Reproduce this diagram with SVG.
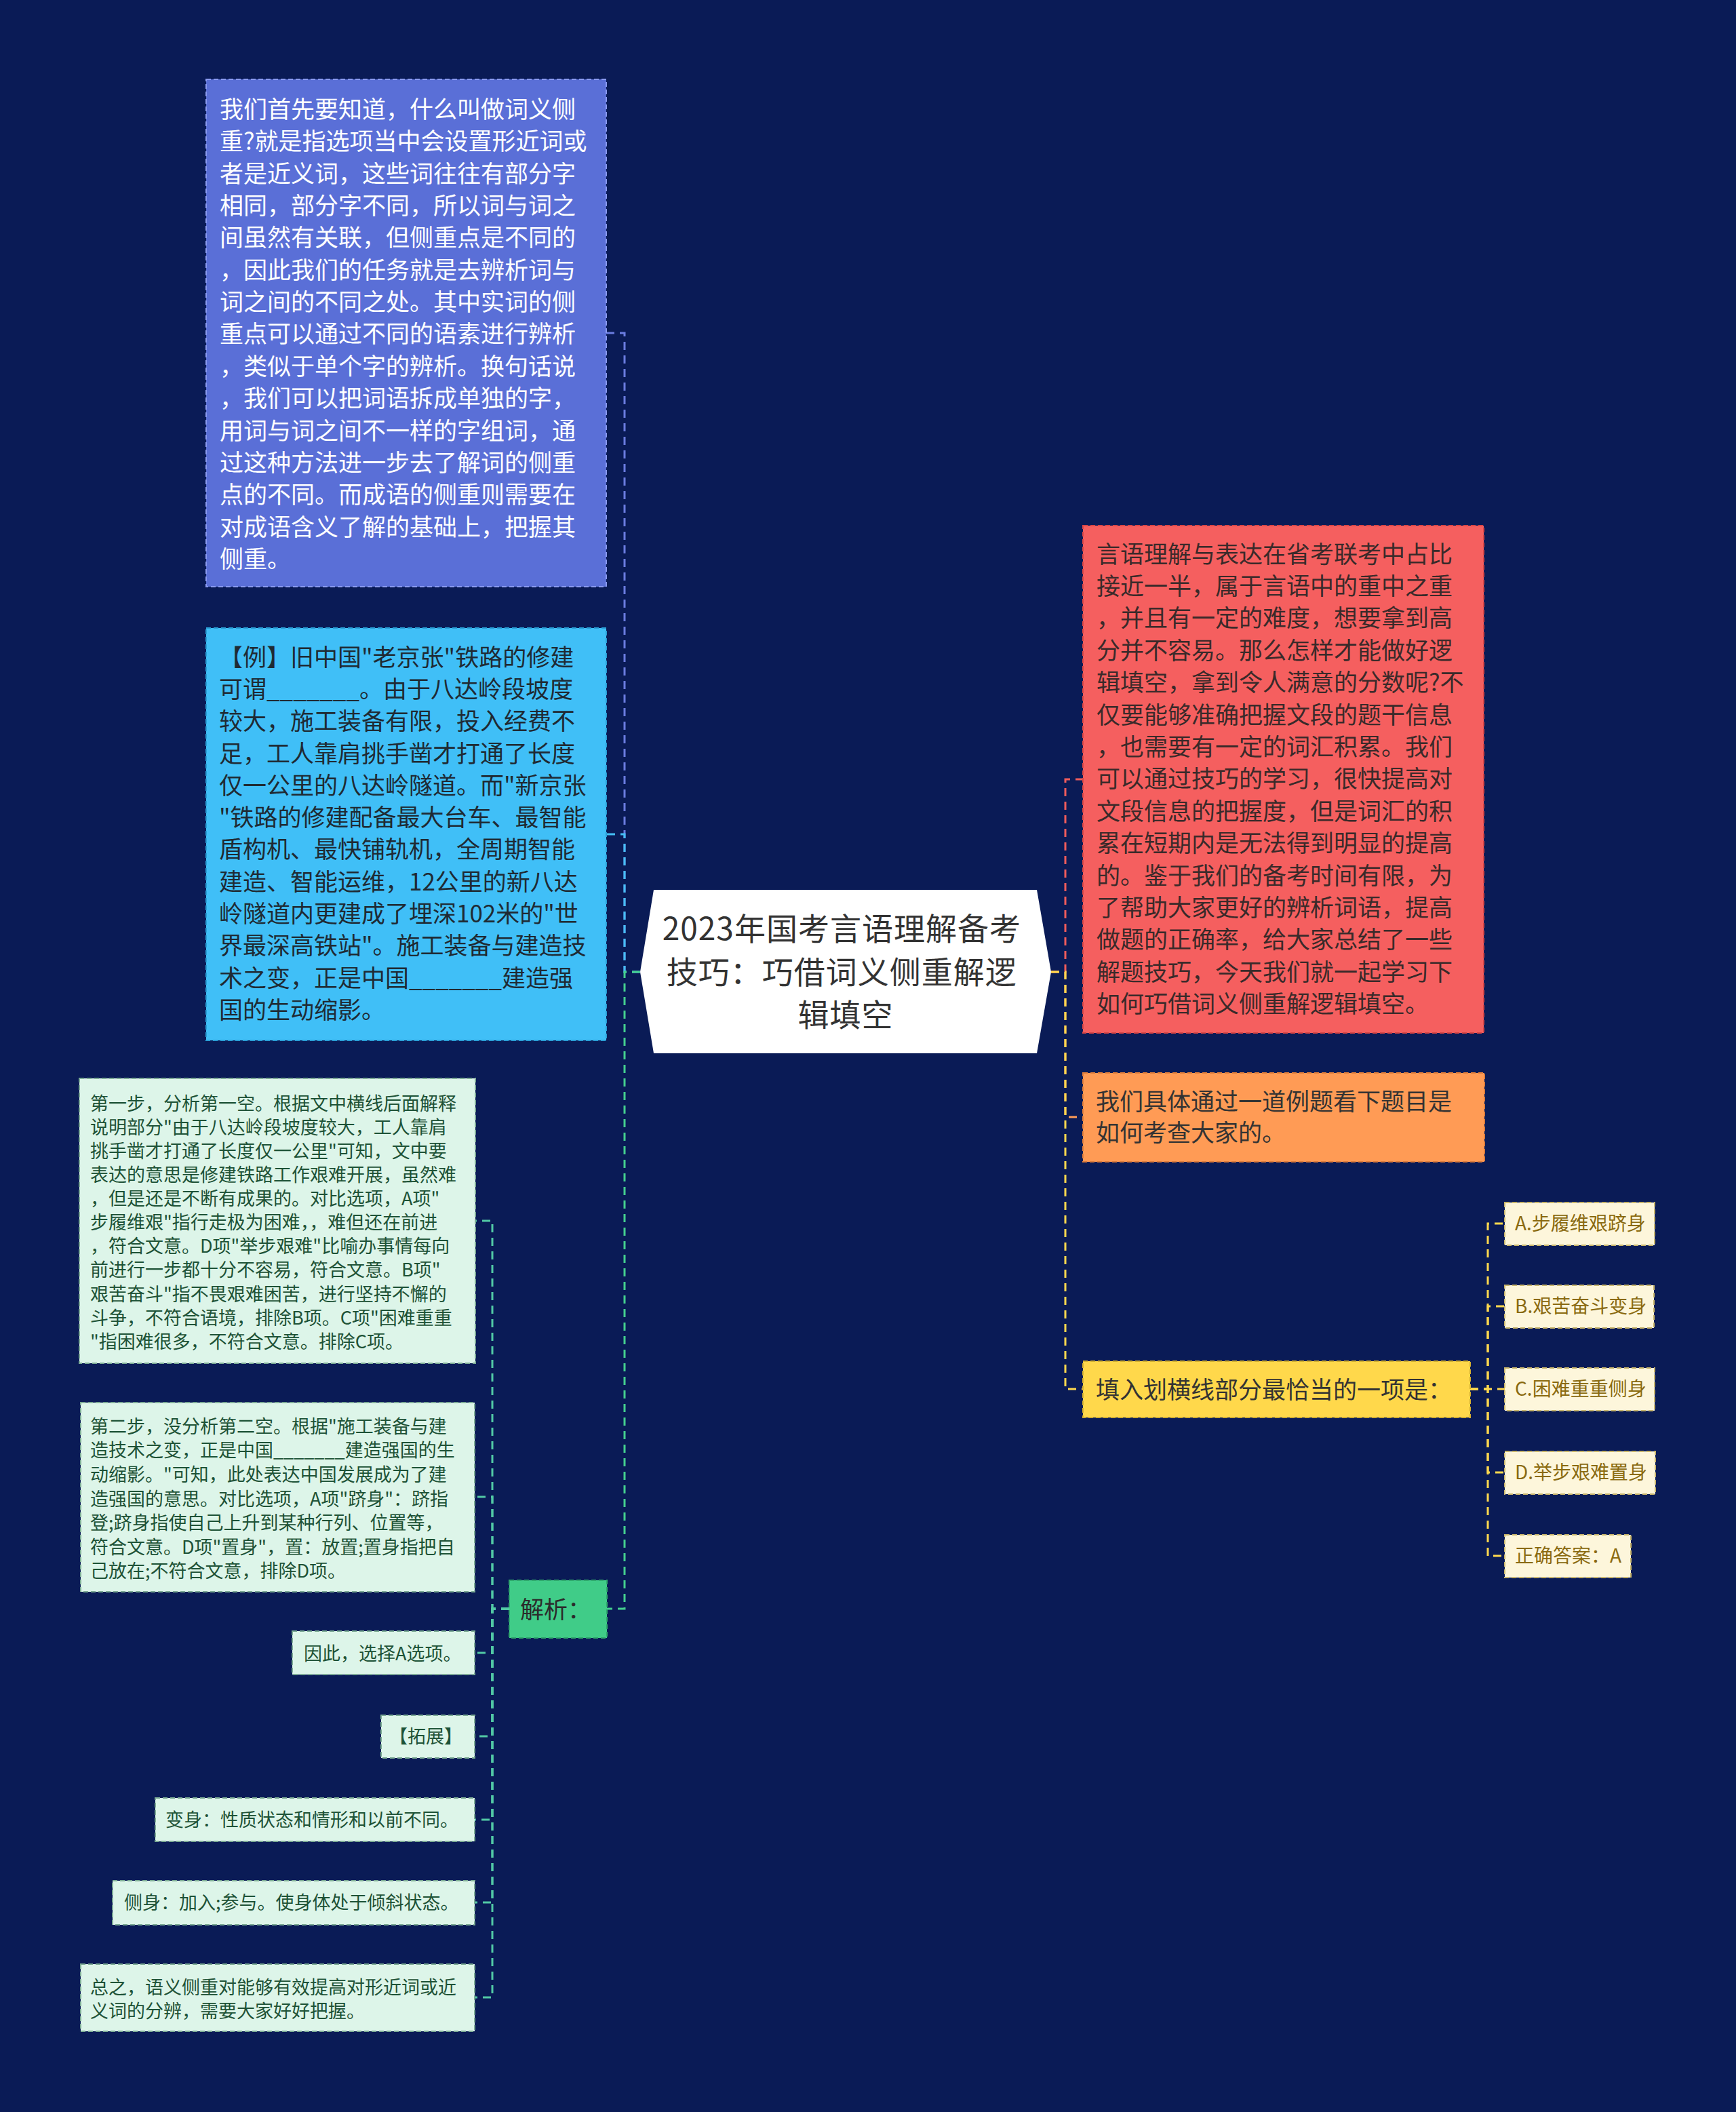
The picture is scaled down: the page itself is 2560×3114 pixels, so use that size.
<svg xmlns="http://www.w3.org/2000/svg" width="2560" height="3114" viewBox="0 0 2560 3114">
<style>
text{font-family:"Noto Sans CJK SC","Noto Sans",sans-serif;}
.t35{font-size:35px}
.t27{font-size:27px}
.t28{font-size:28px}
.t46{font-size:46px;letter-spacing:1px}
.box{stroke-width:2;stroke-dasharray:7 4}
.blue{fill:#5a6fd7;stroke:#8a9af0}
.sky{fill:#40bff7;stroke:#2a9fd6}
.red{fill:#f55f5f;stroke:#d94545}
.orange{fill:#ff9b55;stroke:#e07d3a}
.yellow{fill:#ffd84b;stroke:#d4b030}
.green{fill:#40cc88;stroke:#2fa86c}
.mint{fill:#ddf5e9;stroke:#7cab94}
.cream{fill:#fdf6db;stroke:#c8b56a}
.ln{fill:none;stroke-width:3;stroke-dasharray:12 8}
</style>
<rect x="0" y="0" width="2560" height="3114" fill="#0a1b56"/>

<g id="connectors">
  <path class="ln" stroke="#6b7de0" d="M944 1433H921V491H894"/>
  <path class="ln" stroke="#45c0f5" d="M944 1433H921V1230H894"/>
  <path class="ln" stroke="#45d08f" d="M944 1433H921V2372H895"/>
  <path class="ln" stroke="#f05c5c" d="M1550 1433H1571V1149H1597"/>
  <path class="ln" stroke="#ff9d57" d="M1550 1433H1571V1647H1597"/>
  <path class="ln" stroke="#ffd94e" d="M1550 1433H1571V2048H1597"/>
  <path class="ln" stroke="#52c9a5" d="M751 2372H726V1800H701"/>
  <path class="ln" stroke="#52c9a5" d="M751 2372H726V2207H700"/>
  <path class="ln" stroke="#52c9a5" d="M751 2372H726V2437H700"/>
  <path class="ln" stroke="#52c9a5" d="M751 2372H726V2560H700"/>
  <path class="ln" stroke="#52c9a5" d="M751 2372H726V2683H700"/>
  <path class="ln" stroke="#52c9a5" d="M751 2372H726V2805H700"/>
  <path class="ln" stroke="#52c9a5" d="M751 2372H726V2945H700"/>
  <path class="ln" stroke="#ffd94e" d="M2168 2048H2194V1804H2219"/>
  <path class="ln" stroke="#ffd94e" d="M2168 2048H2194V1926H2219"/>
  <path class="ln" stroke="#ffd94e" d="M2168 2048H2194V2048H2219"/>
  <path class="ln" stroke="#ffd94e" d="M2168 2048H2194V2171H2219"/>
  <path class="ln" stroke="#ffd94e" d="M2168 2048H2194V2294H2219"/>
</g>

<g id="root">
  <polygon points="964,1312 1529,1312 1550,1433 1529,1553 964,1553 944,1433" fill="#ffffff"/>
  <text class="t46" fill="#333333" text-anchor="middle">
    <tspan x="1247" y="1386">2023年国考言语理解备考</tspan>
    <tspan x="1247" y="1449.5">技巧：巧借词义侧重解逻</tspan>
    <tspan x="1247" y="1513">辑填空</tspan>
  </text>
</g>

<g id="node-meaning">
  <rect class="box blue" x="304" y="117" width="590" height="748"/>
  <text class="t35" fill="#ffffff">
    <tspan x="324" y="174">我们首先要知道，什么叫做词义侧</tspan>
    <tspan x="324" dy="47.35">重?就是指选项当中会设置形近词或</tspan>
    <tspan x="324" dy="47.35">者是近义词，这些词往往有部分字</tspan>
    <tspan x="324" dy="47.35">相同，部分字不同，所以词与词之</tspan>
    <tspan x="324" dy="47.35">间虽然有关联，但侧重点是不同的</tspan>
    <tspan x="324" dy="47.35">，因此我们的任务就是去辨析词与</tspan>
    <tspan x="324" dy="47.35">词之间的不同之处。其中实词的侧</tspan>
    <tspan x="324" dy="47.35">重点可以通过不同的语素进行辨析</tspan>
    <tspan x="324" dy="47.35">，类似于单个字的辨析。换句话说</tspan>
    <tspan x="324" dy="47.35">，我们可以把词语拆成单独的字，</tspan>
    <tspan x="324" dy="47.35">用词与词之间不一样的字组词，通</tspan>
    <tspan x="324" dy="47.35">过这种方法进一步去了解词的侧重</tspan>
    <tspan x="324" dy="47.35">点的不同。而成语的侧重则需要在</tspan>
    <tspan x="324" dy="47.35">对成语含义了解的基础上，把握其</tspan>
    <tspan x="324" dy="47.35">侧重。</tspan>
  </text>
</g>

<g id="node-example">
  <rect class="box sky" x="304" y="926" width="590" height="608"/>
  <text class="t35" fill="#1f2a33">
    <tspan x="323" y="981.6">【例】旧中国"老京张"铁路的修建</tspan>
    <tspan x="323" dy="47.3">可谓_______。由于八达岭段坡度</tspan>
    <tspan x="323" dy="47.3">较大，施工装备有限，投入经费不</tspan>
    <tspan x="323" dy="47.3">足，工人靠肩挑手凿才打通了长度</tspan>
    <tspan x="323" dy="47.3">仅一公里的八达岭隧道。而"新京张</tspan>
    <tspan x="323" dy="47.3">"铁路的修建配备最大台车、最智能</tspan>
    <tspan x="323" dy="47.3">盾构机、最快铺轨机，全周期智能</tspan>
    <tspan x="323" dy="47.3">建造、智能运维，12公里的新八达</tspan>
    <tspan x="323" dy="47.3">岭隧道内更建成了埋深102米的"世</tspan>
    <tspan x="323" dy="47.3">界最深高铁站"。施工装备与建造技</tspan>
    <tspan x="323" dy="47.3">术之变，正是中国_______建造强</tspan>
    <tspan x="323" dy="47.3">国的生动缩影。</tspan>
  </text>
</g>

<g id="node-analysis">
  <rect class="box green" x="751" y="2330" width="144" height="85"/>
  <text class="t35" fill="#2b2b2b" x="767" y="2385.5">解析：</text>
</g>

<g id="node-step1">
  <rect class="box mint" x="117" y="1590" width="584" height="420"/>
  <text class="t27" fill="#1d5236">
    <tspan x="133" y="1636.7">第一步，分析第一空。根据文中横线后面解释</tspan>
    <tspan x="133" dy="35.1">说明部分"由于八达岭段坡度较大，工人靠肩</tspan>
    <tspan x="133" dy="35.1">挑手凿才打通了长度仅一公里"可知，文中要</tspan>
    <tspan x="133" dy="35.1">表达的意思是修建铁路工作艰难开展，虽然难</tspan>
    <tspan x="133" dy="35.1">，但是还是不断有成果的。对比选项，A项"</tspan>
    <tspan x="133" dy="35.1">步履维艰"指行走极为困难，，难但还在前进</tspan>
    <tspan x="133" dy="35.1">，符合文意。D项"举步艰难"比喻办事情每向</tspan>
    <tspan x="133" dy="35.1">前进行一步都十分不容易，符合文意。B项"</tspan>
    <tspan x="133" dy="35.1">艰苦奋斗"指不畏艰难困苦，进行坚持不懈的</tspan>
    <tspan x="133" dy="35.1">斗争，不符合语境，排除B项。C项"困难重重</tspan>
    <tspan x="133" dy="35.1">"指困难很多，不符合文意。排除C项。</tspan>
  </text>
</g>

<g id="node-step2">
  <rect class="box mint" x="119" y="2068" width="581" height="279"/>
  <text class="t27" fill="#1d5236">
    <tspan x="133" y="2112.7">第二步，没分析第二空。根据"施工装备与建</tspan>
    <tspan x="133" dy="35.6">造技术之变，正是中国_______建造强国的生</tspan>
    <tspan x="133" dy="35.6">动缩影。"可知，此处表达中国发展成为了建</tspan>
    <tspan x="133" dy="35.6">造强国的意思。对比选项，A项"跻身"：跻指</tspan>
    <tspan x="133" dy="35.6">登;跻身指使自己上升到某种行列、位置等，</tspan>
    <tspan x="133" dy="35.6">符合文意。D项"置身"，置：放置;置身指把自</tspan>
    <tspan x="133" dy="35.6">己放在;不符合文意，排除D项。</tspan>
  </text>
</g>

<g id="node-choose">
  <rect class="box mint" x="431" y="2405" width="269" height="64"/>
  <text class="t27" fill="#1d5236" x="448" y="2448">因此，选择A选项。</text>
</g>

<g id="node-extend">
  <rect class="box mint" x="562" y="2529" width="138" height="63"/>
  <text class="t27" fill="#1d5236" x="574" y="2569.7">【拓展】</text>
</g>

<g id="node-bianshen">
  <rect class="box mint" x="229" y="2651" width="471" height="64"/>
  <text class="t27" fill="#1d5236" x="244" y="2692.7">变身：性质状态和情形和以前不同。</text>
</g>

<g id="node-ceshen">
  <rect class="box mint" x="166" y="2773" width="534" height="65"/>
  <text class="t27" fill="#1d5236" x="183" y="2814.7">侧身：加入;参与。使身体处于倾斜状态。</text>
</g>

<g id="node-summary">
  <rect class="box mint" x="119" y="2896" width="581" height="99"/>
  <text class="t27" fill="#1d5236">
    <tspan x="133" y="2939.7">总之，语义侧重对能够有效提高对形近词或近</tspan>
    <tspan x="133" dy="35.3">义词的分辨，需要大家好好把握。</tspan>
  </text>
</g>

<g id="node-intro">
  <rect class="box red" x="1597" y="775" width="591" height="748"/>
  <text class="t35" fill="#3a2a2a">
    <tspan x="1617" y="829.6">言语理解与表达在省考联考中占比</tspan>
    <tspan x="1617" dy="47.4">接近一半，属于言语中的重中之重</tspan>
    <tspan x="1617" dy="47.4">，并且有一定的难度，想要拿到高</tspan>
    <tspan x="1617" dy="47.4">分并不容易。那么怎样才能做好逻</tspan>
    <tspan x="1617" dy="47.4">辑填空，拿到令人满意的分数呢?不</tspan>
    <tspan x="1617" dy="47.4">仅要能够准确把握文段的题干信息</tspan>
    <tspan x="1617" dy="47.4">，也需要有一定的词汇积累。我们</tspan>
    <tspan x="1617" dy="47.4">可以通过技巧的学习，很快提高对</tspan>
    <tspan x="1617" dy="47.4">文段信息的把握度，但是词汇的积</tspan>
    <tspan x="1617" dy="47.4">累在短期内是无法得到明显的提高</tspan>
    <tspan x="1617" dy="47.4">的。鉴于我们的备考时间有限，为</tspan>
    <tspan x="1617" dy="47.4">了帮助大家更好的辨析词语，提高</tspan>
    <tspan x="1617" dy="47.4">做题的正确率，给大家总结了一些</tspan>
    <tspan x="1617" dy="47.4">解题技巧，今天我们就一起学习下</tspan>
    <tspan x="1617" dy="47.4">如何巧借词义侧重解逻辑填空。</tspan>
  </text>
</g>

<g id="node-case">
  <rect class="box orange" x="1597" y="1582" width="592" height="131"/>
  <text class="t35" fill="#333333">
    <tspan x="1616" y="1636.6">我们具体通过一道例题看下题目是</tspan>
    <tspan x="1616" dy="46.5">如何考查大家的。</tspan>
  </text>
</g>

<g id="node-question">
  <rect class="box yellow" x="1597" y="2007" width="571" height="83"/>
  <text class="t35" fill="#333333" x="1616" y="2061.5">填入划横线部分最恰当的一项是：</text>
</g>

<g id="option-a">
  <rect class="box cream" x="2219" y="1773" width="221" height="63"/>
  <text class="t28" fill="#8a6a10" x="2234" y="1814">A.步履维艰跻身</text>
</g>
<g id="option-b">
  <rect class="box cream" x="2219" y="1895" width="220" height="63"/>
  <text class="t28" fill="#8a6a10" x="2234" y="1936">B.艰苦奋斗变身</text>
</g>
<g id="option-c">
  <rect class="box cream" x="2219" y="2017" width="221" height="63"/>
  <text class="t28" fill="#8a6a10" x="2234" y="2058">C.困难重重侧身</text>
</g>
<g id="option-d">
  <rect class="box cream" x="2219" y="2140" width="222" height="63"/>
  <text class="t28" fill="#8a6a10" x="2234" y="2181">D.举步艰难置身</text>
</g>
<g id="answer">
  <rect class="box cream" x="2219" y="2263" width="186" height="63"/>
  <text class="t28" fill="#8a6a10" x="2234" y="2304">正确答案：A</text>
</g>
</svg>
